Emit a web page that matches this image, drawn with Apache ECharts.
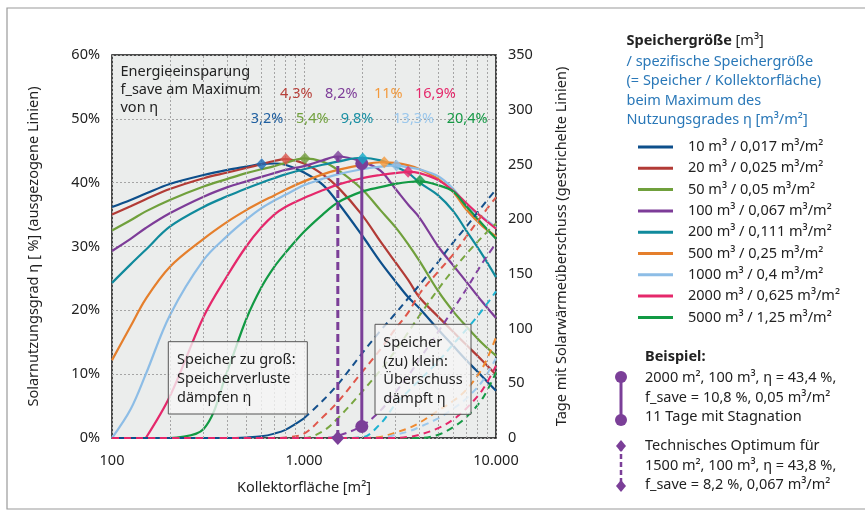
<!DOCTYPE html>
<html><head><meta charset="utf-8">
<script src="https://cdn.jsdelivr.net/npm/echarts/dist/echarts.min.js"></script>
<style>html,body{margin:0;padding:0;background:#fff}#c{width:865px;height:517px}</style>
</head><body><div id="c"></div>
<script>
// ---------- data ----------
const X = [100,125,150,200,300,400,500,600,700,800,1000,1250,1500,2000,2500,3000,3500,4000,5000,6000,7000,8500,10000];
const names = ['10 m³ / 0,017 m³/m²','20 m³ / 0,025 m³/m²','50 m³ / 0,05 m³/m²','100 m³ / 0,067 m³/m²','200 m³ / 0,111 m³/m²','500 m³ / 0,25 m³/m²','1000 m³ / 0,4 m³/m²','2000 m³ / 0,625 m³/m²','5000 m³ / 1,25 m³/m²'];
// solar utilisation eta [%] (solid lines)
const eta10   = [36.2,37.3,38.3,39.8,41.2,42.0,42.5,42.9,43.0,42.8,41.6,39.7,36.9,31.8,27.6,24.5,22.0,20.3,17.0,14.4,12.2,9.6,7.4];
const eta20   = [35.0,36.3,37.4,39.0,40.7,41.6,42.3,42.9,43.4,43.7,43.0,41.3,39.3,35.0,30.8,27.5,24.7,22.0,19.0,16.6,14.6,12.1,9.9];
const eta50   = [32.5,34.1,35.5,37.3,39.4,40.6,41.5,42.1,42.6,43.1,43.8,43.3,42.0,39.0,35.7,33.0,30.3,27.7,23.0,19.8,17.5,14.8,12.9];
const eta100  = [29.3,31.2,32.9,35.2,37.8,39.3,40.2,40.9,41.5,42.0,42.6,43.5,44.1,43.3,41.9,39.0,36.5,34.5,30.0,27.0,24.5,21.3,18.8];
const eta200  = [24.3,27.2,29.5,33.1,36.2,37.9,39.1,40.0,40.7,41.3,42.1,42.8,43.3,43.9,43.5,42.5,41.5,40.0,38.0,35.5,32.5,28.7,25.2];
const eta500  = [12.2,17.5,21.8,26.8,31.2,33.9,35.7,37.0,38.0,38.9,40.2,41.3,42.0,42.8,43.2,43.1,42.7,42.1,40.6,38.5,35.8,33.2,31.6];
const eta1000 = [0,4.5,10.0,19.2,27.9,31.7,34.2,36.0,37.2,38.1,39.6,40.6,41.3,42.1,42.5,42.7,42.4,42.1,41.0,39.0,36.5,34.6,33.0];
const eta2000 = [null,null,0,6.5,19.0,25.5,30.0,33.0,35.0,36.2,37.6,38.8,39.7,40.7,41.2,41.5,41.7,41.5,40.4,38.7,36.8,34.5,32.8];
const eta5000 = [null,null,null,0,1.4,10.6,18.6,23.6,26.8,29.0,32.3,35.0,36.9,38.6,39.3,39.8,40.1,40.2,39.6,38.6,36.3,33.5,31.2];
// days with solar surplus (dashed lines)
const days10   = [0,0,0,0,0,0,0.5,1.5,4,7.5,18,34,49,77,98,114,128,140,161,179,193,212,227];
const days20   = [0,0,0,0,0,0,0,0,0,0.5,4,19,33,60,81,100,115,132,152,168,184,204,220];
const days50   = [0,0,0,0,0,0,0,0,0,0,0,6,18,42,62,80,97,112,136,154,168,184,196];
const days100  = [0,0,0,0,0,0,0,0,0,0,0,0,2,11,25,42,57,72,97,118,136,160,178];
const days200  = [0,0,0,0,0,0,0,0,0,0,0,0,0,0.5,13,31,43,53,70,86,99,117,134];
const days500  = [0,0,0,0,0,0,0,0,0,0,0,0,0,0,1,5,9,14,25,34,44,64,92];
const days1000 = [0,0,0,0,0,0,0,0,0,0,0,0,0,0,0,3,6,10,18,27,36,52,73];
const days2000 = [0,0,0,0,0,0,0,0,0,0,0,0,0,0,0,0,1,3,9,17,27,44,66];
const days5000 = [0,0,0,0,0,0,0,0,0,0,0,0,0,0,0,0,0,0,3,10,19,36,60];
// maxima of eta (diamonds) and their energy savings
const peakX = [602,804,1011,1506,2022,2618,3030,3485,4016];
const peakY = [42.9,43.7,43.8,44.1,43.8,43.2,42.7,41.7,40.3];
const fsaveRow1 = ['4,3%','8,2%','11%','16,9%'];
const fsaveRow2 = ['3,2%','5,4%','9,8%','13,3%','20,4%'];
// example / optimum
const exampleA = 2000, exampleTop = 43.0, exampleBottom = 1.8;
const optimumA = 1500, optimumTop = 44.1;
const minorX = [200,300,400,500,600,700,800,900,2000,3000,4000,5000,6000,7000,8000,9000];

// ---------- styles ----------
const FONT = '"Noto Sans", "DejaVu Sans", sans-serif';
const FS = 14.5;
const lineColors = ['#0d4f8b','#b23b36','#70a03c','#7d3c98','#108a9c','#e57f2c','#8dbde6','#e5286b','#129a44'];
const dashColors = ['#15508c','#e0574b','#78a640','#8240a0','#1fb3d2','#f08a30','#9cc8ec','#e5286b','#159945'];
const peakColors = ['#1a6cb8','#d9534a','#6f9a3a','#7b3f98','#12aac8','#f39a3d','#8dbde6','#e5286b','#159945'];
const row1Colors = ['#b8413b','#7d3c98','#f39a3d','#e5286b'];
const row2Colors = ['#1f5fa0','#70a03c','#1a8fa3','#9cc8ec','#159945'];
const PURPLE = '#7b3f98';

const etaAll = [eta10,eta20,eta50,eta100,eta200,eta500,eta1000,eta2000,eta5000];
const daysAll = [days10,days20,days50,days100,days200,days500,days1000,days2000,days5000];
const pair = (arr) => X.map((x,i) => [x, arr[i]]);
const SM = 0.35;

const series = [];
series.push({
  type:'line', data:[[100,null]], symbol:'none', silent:true, z:1,
  markLine:{ silent:true, symbol:'none', label:{show:false}, animation:false,
    lineStyle:{type:[2,2], color:'#a5a5a5', width:1},
    data: minorX.map(v => ({xAxis:v})) }
});
etaAll.forEach((arr,i) => {
  series.push({ name:names[i], type:'line', yAxisIndex:0, data:pair(arr), smooth:SM,
    symbol:'none', showSymbol:false, connectNulls:false,
    lineStyle:{width:2.2, color:lineColors[i]}, itemStyle:{color:lineColors[i]}, z:3 });
});
series.push({ name:'d10s', type:'line', yAxisIndex:1, smooth:SM, symbol:'none', clip:false,
  data: X.map((x,i) => [x, x <= 1000 ? days10[i] : null]),
  lineStyle:{width:2, color:lineColors[0]}, z:4 });
daysAll.forEach((arr,i) => {
  const d = (i === 0) ? X.map((x,k) => [x, x >= 1000 ? arr[k] : null]) : pair(arr);
  series.push({ name:'d'+i, type:'line', yAxisIndex:1, data:d, smooth:SM, symbol:'none',
    clip:false, connectNulls:false, lineStyle:{width:2, type:[7,5], color:dashColors[i]}, z: (i===7?6:4) });
});
series.push({ name:'opt', type:'line', yAxisIndex:0, clip:false, z:7,
  data:[{value:[optimumA,0], symbol:'diamond', symbolSize:[13,14]},{value:[optimumA,optimumTop], symbol:'none'}],
  showSymbol:true, lineStyle:{width:3, type:[8,4], color:PURPLE}, itemStyle:{color:PURPLE} });
series.push({ name:'ex', type:'line', yAxisIndex:0, clip:false, z:7,
  data:[{value:[exampleA,exampleBottom]},{value:[exampleA,exampleTop]}],
  symbol:'circle', symbolSize:13, showSymbol:true,
  lineStyle:{width:3, color:PURPLE}, itemStyle:{color:PURPLE} });
series.push({ name:'peaks', type:'scatter', yAxisIndex:0, symbol:'diamond', symbolSize:[11,12], z:8,
  data: peakX.map((x,i) => ({value:[x,peakY[i]], itemStyle:{color:peakColors[i]}})) });

const row1X = [280,325,374,415], row2X = [250.7,296,340.7,393.3,446.7];
const T = (x,y,text,extra) => ({type:'text', x, y, z:10, style:Object.assign({text, fontSize:FS, fontFamily:FONT, fill:'#222', align:'left', verticalAlign:'middle'}, extra||{})});
const g = [];
g.push({type:'rect', shape:{x:7,y:8,width:900,height:501}, style:{fill:'none', stroke:'#9a9a9a', lineWidth:1.2}, silent:true});
g.push(T(120.5,90,'Energieeinsparung\nf_save am Maximum\nvon η',{lineHeight:18.3}));
fsaveRow1.forEach((t,i)=>g.push(T(row1X[i],93.5,t,{fill:row1Colors[i]})));
fsaveRow2.forEach((t,i)=>g.push(T(row2X[i],119,t,{fill:row2Colors[i]})));
g.push({type:'rect', z:20, shape:{x:168.3,y:341.7,width:139,height:72.3}, style:{fill:'rgba(246,246,246,0.78)', stroke:'#555', lineWidth:1}});
const b1 = T(177,379,'Speicher zu groß:\nSpeicherverluste\ndämpfen η',{lineHeight:19.2}); b1.z=21; g.push(b1);
g.push({type:'rect', z:20, shape:{x:375,y:324.3,width:96,height:90}, style:{fill:'rgba(246,246,246,0.78)', stroke:'#555', lineWidth:1}});
const b2 = T(383.3,370.8,'Speicher\n(zu) klein:\nÜberschuss\ndämpft η',{lineHeight:18.8}); b2.z=21; g.push(b2);
g.push(T(626.5,41,'{b|Speichergröße} [m³]',{rich:{b:{fontWeight:'bold', fontSize:FS, fontFamily:FONT, fill:'#222'}}}));
g.push(T(626.5,90.8,'/ spezifische Speichergröße\n(= Speicher / Kollektorfläche)\nbeim Maximum des\nNutzungsgrades η [m³/m²]',{fill:'#2a78b8', lineHeight:19.4}));
g.push(T(645,357,'Beispiel:',{fontWeight:'bold'}));
g.push(T(645,397.8,'2000 m², 100 m³, η = 43,4 %,\nf_save = 10,8 %, 0,05 m³/m²\n11 Tage mit Stagnation',{lineHeight:19.5}));
g.push(T(645,465.7,'Technisches Optimum für\n1500 m², 100 m³, η = 43,8 %,\nf_save = 8,2 %, 0,067 m³/m²',{lineHeight:19.5}));
g.push({type:'line', shape:{x1:621,y1:377,x2:621,y2:420}, style:{stroke:PURPLE, lineWidth:3}, z:10});
g.push({type:'circle', shape:{cx:621,cy:377,r:6}, style:{fill:PURPLE}, z:11});
g.push({type:'circle', shape:{cx:621,cy:420,r:6}, style:{fill:PURPLE}, z:11});
g.push({type:'line', shape:{x1:621,y1:446,x2:621,y2:486}, style:{stroke:PURPLE, lineWidth:2.5, lineDash:[5,3]}, z:10});
g.push({type:'polygon', shape:{points:[[621,440],[626,446],[621,452],[616,446]]}, style:{fill:PURPLE}, z:11});
g.push({type:'polygon', shape:{points:[[621,480],[626,486],[621,492],[616,486]]}, style:{fill:PURPLE}, z:11});

const option = {
  animation:false,
  backgroundColor:'#fff',
  textStyle:{fontFamily:FONT},
  grid:{left:112, right:369, top:55, bottom:79, show:true, backgroundColor:'#ebedec', borderColor:'#111', borderWidth:1.5, containLabel:false},
  xAxis:{type:'log', logBase:10, min:100, max:10000,
    name:'Kollektorfläche [m²]', nameLocation:'middle', nameGap:42,
    nameTextStyle:{fontSize:FS, color:'#222', fontFamily:FONT},
    axisLine:{show:false}, axisTick:{show:false},
    axisLabel:{margin:15, fontSize:FS, color:'#222', fontFamily:FONT,
      formatter:(v)=> v>=9999 ? '10.000' : (v>=999 ? '1.000' : '100')},
    splitLine:{show:true, lineStyle:{type:[2,2], color:'#a5a5a5', width:1}}},
  yAxis:[
    {type:'value', min:0, max:60, interval:10, position:'left',
      name:'Solarnutzungsgrad η [ %] (ausgezogene Linien)', nameLocation:'middle', nameGap:71, nameRotate:90,
      nameTextStyle:{fontSize:FS, color:'#222', fontFamily:FONT},
      axisLine:{show:false}, axisTick:{show:false},
      axisLabel:{margin:12, fontSize:FS, color:'#222', fontFamily:FONT, formatter:'{value}%'},
      splitLine:{show:true, lineStyle:{type:[2,2], color:'#a5a5a5', width:1}}},
    {type:'value', min:0, max:350, interval:50, position:'right',
      name:'Tage mit Solarwärmeüberschuss (gestrichelte Linien)', nameLocation:'middle', nameGap:58, nameRotate:90,
      nameTextStyle:{fontSize:FS, color:'#222', fontFamily:FONT},
      axisLine:{show:false}, axisTick:{show:false},
      axisLabel:{margin:12, fontSize:FS, color:'#222', fontFamily:FONT},
      splitLine:{show:false}}
  ],
  legend:{orient:'vertical', left:633, top:134, itemWidth:35, itemHeight:3, itemGap:5.3, icon:'rect',
    selectedMode:false, data:names,
    textStyle:{fontSize:FS, color:'#222', fontFamily:FONT, lineHeight:16, padding:[0,0,0,10]}},
  series: series,
  graphic: g
};
const chart = echarts.init(document.getElementById('c'));
chart.setOption(option);
</script></body></html>
